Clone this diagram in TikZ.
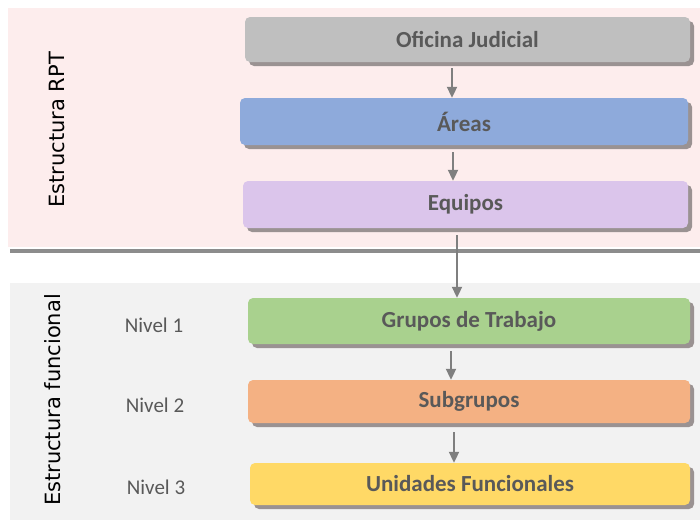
\documentclass[tikz,border=0pt]{standalone}
\usepackage{fontspec}
\setmainfont{Carlito}
\newfontfamily\verdfont{DejaVu Sans}
\usepackage{tikz}
\usetikzlibrary{arrows.meta,shadows}

\definecolor{rptpink}{HTML}{FDEDED}
\definecolor{funcgrey}{HTML}{F2F2F2}
\definecolor{sepgrey}{HTML}{8C8C8C}
\definecolor{arrgrey}{HTML}{7F7F7F}
\definecolor{shadgrey}{HTML}{9A9292}
\definecolor{txtgrey}{HTML}{595959}
\definecolor{ofigrey}{HTML}{BFBFBF}
\definecolor{areablue}{HTML}{8EAADB}
\definecolor{equilila}{HTML}{DBC5EB}
\definecolor{grupgreen}{HTML}{A9D18E}
\definecolor{subgorange}{HTML}{F4B183}
\definecolor{uniyellow}{HTML}{FFD966}

\begin{document}
\begin{tikzpicture}[x=1pt,y=-1pt,
    levelbox/.style={rounded corners=5pt, inner sep=0pt, text=txtgrey,
        font=\fontsize{23}{26}\selectfont\bfseries,
        drop shadow={shadow xshift=4pt, shadow yshift=-4pt, fill=shadgrey, opacity=1}},
    nivel/.style={text=txtgrey, font=\fontsize{21}{24}\selectfont},
    side/.style={rotate=90, font=\verdfont\fontsize{21}{24}\selectfont},
    arr/.style={draw=arrgrey, line width=2pt, -{Triangle[width=10pt,length=11pt]}}]
    \useasboundingbox (0,0) rectangle (700,520);
    % the two panels
    \fill[rptpink] (8,8) rectangle (700,247);
    \fill[funcgrey] (10,283) rectangle (700,520);
    \draw[sepgrey, line width=4pt] (10,251) -- (700,251);
    \node[side] (rpt) at (57,130) {Estructura RPT};
    \node[side] (func) at (53,400) {Estructura funcional};
    % boxes
    \node[levelbox, fill=ofigrey, minimum width=445pt, minimum height=45pt] (ofi) at (467.5,39.5) {Oficina Judicial};
    \node[levelbox, fill=areablue, minimum width=448pt, minimum height=47pt] (areas) at (464,121.5) {Áreas};
    \node[levelbox, fill=equilila, minimum width=445pt, minimum height=47pt] (equipos) at (465.5,204.5) {Equipos};
    \node[levelbox, fill=grupgreen, minimum width=442pt, minimum height=46pt] (grupos) at (469,321) {Grupos de Trabajo};
    \node[levelbox, fill=subgorange, minimum width=442pt, minimum height=43pt] (subg) at (469,401.5) {Subgrupos};
    \node[levelbox, fill=uniyellow, minimum width=440pt, minimum height=42pt] (unid) at (470,484) {Unidades Funcionales};
    % levels
    \node[nivel] (n1) at (154,325) {Nivel 1};
    \node[nivel] (n2) at (155,405) {Nivel 2};
    \node[nivel] (n3) at (156,487) {Nivel 3};
    % arrows
    \draw[arr] ([yshift=-6pt]ofi.south -| 452,0) -- (areas.north -| 452,0);
    \draw[arr] ([yshift=-7pt]areas.south -| 453,0) -- (equipos.north -| 453,0);
    \draw[arr] ([yshift=-7pt]equipos.south -| 457,0) -- (grupos.north -| 457,0);
    \draw[arr] ([yshift=-7pt]grupos.south -| 451,0) -- (subg.north -| 451,0);
    \draw[arr] ([yshift=-9pt]subg.south -| 454,0) -- (unid.north -| 454,0);
\end{tikzpicture}
\end{document}
